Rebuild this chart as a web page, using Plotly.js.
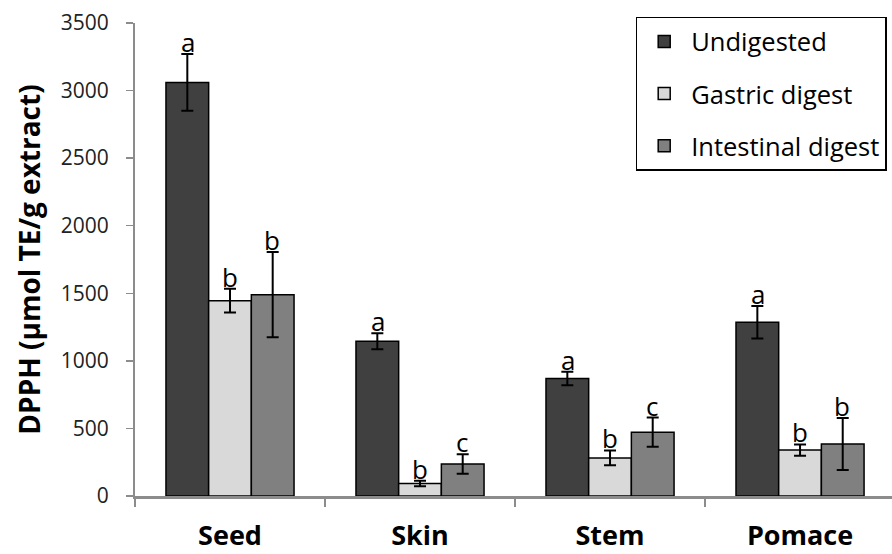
<!DOCTYPE html>
<html>
<head>
<meta charset="utf-8">
<script src="https://cdn.plot.ly/plotly-3.0.1.min.js"></script>
<style>html,body{margin:0;padding:0;background:#fff;}#chart{width:892px;height:554px;}</style>
</head>
<body>
<div id="chart"></div>
<script>
const categories = ["Seed", "Skin", "Stem", "Pomace"];
const seriesNames = ["Undigested", "Gastric digest", "Intestinal digest"];
const undigested = [3060, 1145, 870, 1285];
const undigestedErr = [210, 60, 50, 120];
const gastric = [1445, 92, 282, 340];
const gastricErr = [88, 20, 55, 42];
const intestinal = [1490, 237, 472, 385];
const intestinalErr = [315, 72, 108, 193];
const undigestedLetters = ["a", "a", "a", "a"];
const gastricLetters = ["b", "b", "b", "b"];
const intestinalLetters = ["b", "c", "c", "b"];
const yTicks = [0, 500, 1000, 1500, 2000, 2500, 3000, 3500];

const colors = ["#404040", "#d9d9d9", "#808080"];
const values = [undigested, gastric, intestinal];
const errs = [undigestedErr, gastricErr, intestinalErr];
const letters = [undigestedLetters, gastricLetters, intestinalLetters];
const FONT = "Open Sans, DejaVu Sans, sans-serif";

const traces = values.map((v, i) => ({
  type: "bar",
  name: seriesNames[i],
  legendgroup: "g" + i,
  x: categories,
  y: v,
  marker: {color: colors[i], line: {color: "#000", width: 1.5}},
  error_y: {type: "data", array: errs[i], visible: true, color: "#000", thickness: 2, width: 6}
}));

const barPx = 42;
const annotations = [];
values.forEach((v, i) => {
  v.forEach((val, j) => {
    annotations.push({
      x: categories[j], y: val + errs[i][j], xref: "x", yref: "y",
      text: letters[i][j], showarrow: false, yanchor: "bottom",
      xshift: (i - 1) * barPx, yshift: -8,
      font: {family: FONT, size: 26, color: "#000"}
    });
  });
});

const layout = {
  width: 892, height: 554,
  margin: {l: 135, r: 0, t: 23, b: 58},
  paper_bgcolor: "#fff", plot_bgcolor: "#fff",
  barmode: "group", bargap: 0.326, bargroupgap: 0,
  showlegend: true,
  legend: {
    x: 0.993, xanchor: "right", y: 1.013, yanchor: "top",
    bgcolor: "#fff", bordercolor: "#000", borderwidth: 1.5,
    font: {family: FONT, size: 25.5, color: "#000"},
    tracegroupgap: 16, itemwidth: 44, entrywidth: 205
  },
  xaxis: {
    range: [-0.5, 3.484], showline: true, linecolor: "#8c8c8c", linewidth: 3,
    tickson: "boundaries", ticks: "outside", ticklen: 8, tickcolor: "#8c8c8c", tickwidth: 1.5,
    ticklabelstandoff: 14,
    tickfont: {family: FONT, size: 27, color: "#000", weight: "bold"},
    showgrid: false, zeroline: false, fixedrange: true
  },
  yaxis: {
    range: [0, 3500], tickvals: yTicks, ticktext: yTicks.map(String),
    showline: true, linecolor: "#8c8c8c", linewidth: 2,
    ticks: "outside", ticklen: 7, tickcolor: "#8c8c8c", tickwidth: 1.5,
    ticklabelstandoff: 13,
    tickfont: {family: FONT, size: 21, color: "#222"},
    showgrid: false, zeroline: false,
    title: {text: "DPPH (µmol TE/g extract)", standoff: 12,
      font: {family: FONT, size: 28, color: "#000", weight: "bold"}}
  },
  annotations: annotations
};

Plotly.newPlot("chart", traces, layout, {displayModeBar: false, staticPlot: true});
</script>
</body>
</html>
